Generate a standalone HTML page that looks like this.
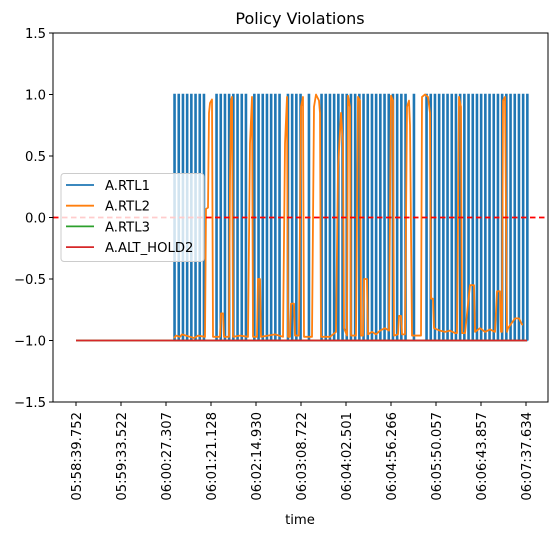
<!DOCTYPE html>
<html><head><meta charset="utf-8"><style>
html,body{margin:0;padding:0;background:#fff;}
svg{display:block;font-family:"DejaVu Sans","Liberation Sans",sans-serif;}
</style></head><body>
<svg id="chart" width="559" height="534" viewBox="0 0 559 534"></svg>
<script>
// time in sample units (1 unit ≈ 1.195 s) from 05:58:39.752
const tickIdx = [0,45,90,135,180,225,270,315,360,405,450];
const tickLabels = ["05:58:39.752","05:59:33.522","06:00:27.307","06:01:21.128","06:02:14.930","06:03:08.722","06:04:02.501","06:04:56.266","06:05:50.057","06:06:43.857","06:07:37.634"];
const yTicks = [1.5,1.0,0.5,0.0,-0.5,-1.0,-1.5];
const yTickLabels = ["1.5","1.0","0.5","0.0","−0.5","−1.0","−1.5"];
// RTL1 pulses: start, period and on/off flags
const rtl1Start = 98;
const rtl1Period = 4.2;
const rtl1Flags = [1,1,1,1,1,1,1,1,0,0,1,1,1,1,1,1,1,1,0,1,1,1,1,1,1,1,0,1,1,1,1,0,1,0,0,1,1,1,1,1,1,1,1,1,1,1,1,1,1,1,1,1,1,1,1,1,0,1,0,0,1,1,1,1,1,1,1,1,1,1,1,1,1,1,1,1,1,1,1,1,1,1,1,1,1];
// RTL2
const rtl2T = [98,100,104,106,110,114,118,122,129,130,132,133,134,136,137,144,145,147,148,153,154,155,156,157,164,172,174,176,177,181,182,184,185,192,199,207,209,211,212,214,215,218,219,223,225,227,228,236,238,240,243,244,245,254,260,262,265,267,268,271,272,274,275,280,282,284,285,287,288,291,292,296,300,304,309,313,315,317,318,322,323,325,326,329,331,333,334,336,342,345,346,349,352,354,355,357,358,364,369,374,379,381,383,385,386,389,394,398,399,404,409,414,419,421,424,425,426,427,429,431,432,439,443,446,447,451];
const rtl2V = [-0.98,-0.96,-0.97,-0.95,-0.96,-0.97,-0.98,-0.96,-0.97,0.07,0.08,0.85,0.93,0.96,-0.97,-0.97,-0.78,-0.78,-0.97,-0.97,0.3,0.95,0.98,-0.97,-0.96,-0.97,0.6,0.98,-0.97,-0.97,-0.5,-0.5,-0.97,-0.96,-0.95,-0.97,0.6,0.98,-0.97,-0.97,-0.7,-0.7,-0.96,-0.96,0.9,0.98,-0.97,-0.97,0.9,1.0,0.95,0.85,-0.97,-0.97,-0.93,0.4,0.85,0.6,-0.9,-0.96,0.99,0.9,-0.96,-0.96,0.98,0.95,-0.96,-0.96,-0.5,-0.5,-0.95,-0.93,-0.95,-0.92,-0.9,-0.92,0.99,0.95,-0.96,-0.95,-0.8,-0.8,-0.95,-0.95,0.9,0.95,0.75,-0.96,-0.96,-0.96,0.98,1.0,0.98,0.85,-0.66,-0.66,-0.9,-0.92,-0.93,-0.92,-0.94,-0.94,0.98,0.9,-0.94,-0.94,-0.55,-0.55,-0.93,-0.9,-0.93,-0.91,-0.93,-0.6,-0.6,-0.93,-0.93,0.95,0.98,-0.93,-0.9,-0.82,-0.82,-0.87,-0.87];
const rtl3T = [0,451];
const rtl3V = [-1,-1];
const altT = [0,451];
const altV = [-1,-1];
const threshold = 0;

const NS="http://www.w3.org/2000/svg";
const svg=document.getElementById('chart');
const L=53,R=548,T=33,B=402;
function X(i){return 76+i;}
function Y(v){return 217.5-123*v;}
function mk(tag,attrs,parent){const e=document.createElementNS(NS,tag);for(const k in attrs)e.setAttribute(k,attrs[k]);(parent||svg).appendChild(e);return e;}

let t=mk('text',{x:300,y:24,'text-anchor':'middle','font-size':'16'});t.textContent='Policy Violations';



const clip=mk('clipPath',{id:'pc'});mk('rect',{x:L,y:T,width:R-L,height:B-T},clip);
const g=mk('g',{'clip-path':'url(#pc)'});



// RTL1
let d='M'+X(rtl1Start)+','+Y(-1);
for(let i=0;i<rtl1Flags.length;i++){const s=rtl1Start+i*rtl1Period;
 if(rtl1Flags[i]){d+=' L'+X(s)+','+Y(-1)+' L'+X(s)+','+Y(1)+' L'+X(s+1.1)+','+Y(1)+' L'+X(s+1.1)+','+Y(-1);}
}
d+=' L'+X(rtl1Start+(rtl1Flags.length-1)*rtl1Period+1.1)+','+Y(-1);
let p=mk('path',{d:d,fill:'none',stroke:'#1f77b4','stroke-width':1.5},g);



function line(ts,vs,color,name){const pts=ts.map((tt,i)=>X(tt)+','+Y(vs[i])).join(' ');
 const e=mk('polyline',{points:pts,fill:'none',stroke:color,'stroke-width':1.8,'stroke-linejoin':'round'},g);
 
 }
line(rtl2T,rtl2V,'#ff7f0e','series-rtl2');
line(rtl3T,rtl3V,'#2ca02c','series-rtl3');
line(altT,altV,'#d62728','series-alt-hold2');
let th=mk('line',{x1:L,x2:R,y1:Y(threshold),y2:Y(threshold),stroke:'#ff0000','stroke-width':1.8,'stroke-dasharray':'5.5,3.5'},g);



let fr=mk('rect',{x:L,y:T,width:R-L,height:B-T,fill:'none',stroke:'#000','stroke-width':1});



yTicks.forEach((v,i)=>{mk('line',{x1:L-4,x2:L,y1:Y(v),y2:Y(v),stroke:'#000'});
 const e=mk('text',{x:L-7,y:Y(v)+5,'text-anchor':'end','font-size':'13.2'});e.textContent=yTickLabels[i];
 
 });
tickIdx.forEach((v,i)=>{const x=X(v);mk('line',{x1:x,x2:x,y1:B,y2:B+4,stroke:'#000'});
 const e=mk('text',{x:0,y:0,'text-anchor':'end','font-size':'13.2',transform:'translate('+(x+5)+','+(B+10)+') rotate(-90)'});e.textContent=tickLabels[i];
 
 });
t=mk('text',{x:300,y:524,'text-anchor':'middle','font-size':'13.2'});t.textContent='time';



// legend
const lg=mk('g',{});


mk('rect',{x:61,y:173.5,width:143,height:88,rx:3,fill:'rgba(255,255,255,0.8)',stroke:'#ccc'},lg);
[['A.RTL1','#1f77b4'],['A.RTL2','#ff7f0e'],['A.RTL3','#2ca02c'],['A.ALT_HOLD2','#d62728']].forEach((e,i)=>{
 const y=185+i*20.7;
 mk('line',{x1:66,x2:94,y1:y,y2:y,stroke:e[1],'stroke-width':1.8},lg);
 const tx=mk('text',{x:105,y:y+5,'font-size':'13.2'},lg);tx.textContent=e[0];
 
 
});
</script>
</body></html>
